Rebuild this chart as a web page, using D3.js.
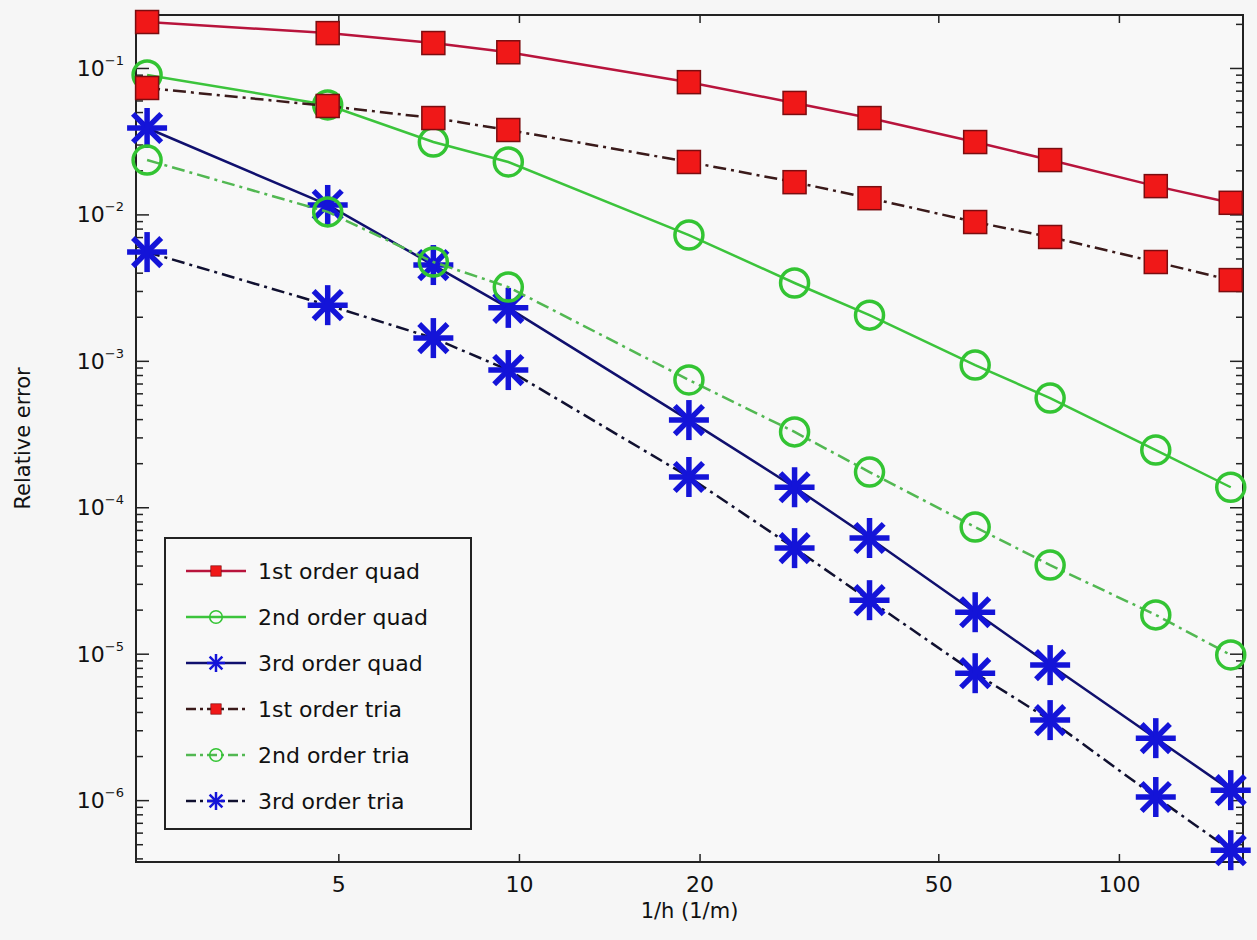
<!DOCTYPE html>
<html>
<head>
<meta charset="utf-8">
<script src="https://cdn.jsdelivr.net/npm/d3@7"></script>
<style>
  body { margin: 0; background: #f6f6f6; }
  svg { display: block; font-family: "DejaVu Sans", sans-serif; }
  .axis path { display: none; }
  .axis line { stroke: #222; stroke-width: 1.5; }
  .axis text { font-size: 22px; fill: #111; font-family: "DejaVu Sans", sans-serif; }
</style>
</head>
<body>
<div id="chart"></div>
<script>
// 1/h values (1/m)
const xVals = [2.4, 4.8, 7.2, 9.6, 19.2, 28.8, 38.4, 57.6, 76.8, 115.2, 153.6];

// relative error, one list per series
const quad1 = [0.206, 0.173, 0.148, 0.128, 0.080, 0.0577, 0.0455, 0.0312, 0.0235, 0.0156, 0.0120];
const quad2 = [0.0896, 0.0559, 0.0312, 0.0228, 0.00723, 0.0034, 0.00205, 0.000936, 0.000557, 0.000246, 0.000137];
const quad3 = [0.0389, 0.0116, 0.00451, 0.0023, 0.000394, 0.000137, 6.17e-5, 1.92e-5, 8.36e-6, 2.65e-6, 1.17e-6];
const tria1 = [0.073, 0.055, 0.0455, 0.0377, 0.0228, 0.0166, 0.0129, 0.00887, 0.00701, 0.00473, 0.00356];
const tria2 = [0.0235, 0.0104, 0.00473, 0.00319, 0.00074, 0.000327, 0.000174, 7.32e-5, 4.03e-5, 1.84e-5, 9.8e-6];
const tria3 = [0.00553, 0.0024, 0.00143, 0.000865, 0.000161, 5.26e-5, 2.32e-5, 7.36e-6, 3.52e-6, 1.05e-6, 4.55e-7];

const labels = ["1st order quad", "2nd order quad", "3rd order quad",
                "1st order tria", "2nd order tria", "3rd order tria"];

const xTicks = [5, 10, 20, 50, 100];
const yExps = [-1, -2, -3, -4, -5, -6];

const W = 1257, H = 940;
const margin = {top: 15, right: 14, bottom: 78, left: 136};

const series = [
  {name: labels[0], vals: quad1, marker: "square", line: "#b8143c", dash: null},
  {name: labels[1], vals: quad2, marker: "circle", line: "#3cc43c", dash: null},
  {name: labels[2], vals: quad3, marker: "star",   line: "#10106e", dash: null},
  {name: labels[3], vals: tria1, marker: "square", line: "#3a1a1a", dash: "13,5,3,5"},
  {name: labels[4], vals: tria2, marker: "circle", line: "#52b852", dash: "13,5,3,5"},
  {name: labels[5], vals: tria3, marker: "star",   line: "#101030", dash: "13,5,3,5"}
];

const svg = d3.select("#chart").append("svg")
  .attr("width", W).attr("height", H);

svg.append("rect").attr("width", W).attr("height", H).attr("fill", "#f6f6f6");

const x = d3.scaleLog()
  .domain([2.3, 161])
  .range([margin.left, W - margin.right]);

const y = d3.scaleLog()
  .domain([3.78e-7, 0.23])
  .range([H - margin.bottom, margin.top]);

const x0 = margin.left, x1 = W - margin.right;
const y0 = H - margin.bottom, y1 = margin.top;

svg.append("rect")
  .attr("x", x0).attr("y", y1)
  .attr("width", x1 - x0).attr("height", y0 - y1)
  .attr("fill", "#f8f8f8");

// minor y ticks
const yMinor = [];
for (let e = -7; e <= -1; e++) {
  for (let m = 2; m <= 9; m++) {
    const v = m * Math.pow(10, e);
    if (v > y.domain()[0] && v < y.domain()[1]) yMinor.push(v);
  }
}
const yMajor = yExps.map(e => Math.pow(10, e));

// left axis
svg.append("g").attr("class", "axis")
  .attr("transform", `translate(${x0},0)`)
  .call(d3.axisLeft(y).tickValues(yMinor).tickSize(-7).tickFormat(""));
svg.append("g").attr("class", "axis")
  .attr("transform", `translate(${x0},0)`)
  .call(d3.axisLeft(y).tickValues(yMajor).tickSize(-13).tickFormat(""));

// right axis
svg.append("g").attr("class", "axis")
  .attr("transform", `translate(${x1},0)`)
  .call(d3.axisRight(y).tickValues(yMinor).tickSize(-7).tickFormat(""));
svg.append("g").attr("class", "axis")
  .attr("transform", `translate(${x1},0)`)
  .call(d3.axisRight(y).tickValues(yMajor).tickSize(-13).tickFormat(""));

// y tick labels with superscript
yExps.forEach(e => {
  const t = svg.append("text")
    .attr("x", x0 - 12)
    .attr("y", y(Math.pow(10, e)) + 8)
    .attr("text-anchor", "end")
    .attr("font-size", 22)
    .attr("fill", "#111");
  t.append("tspan").text("10");
  t.append("tspan").attr("dy", -11).attr("font-size", 13).text("\u2212" + (-e));
});

// bottom and top x axis
svg.append("g").attr("class", "axis")
  .attr("transform", `translate(0,${y0})`)
  .call(d3.axisBottom(x).tickValues(xTicks).tickSize(-8).tickPadding(14)
    .tickFormat(d3.format("d")));
svg.append("g").attr("class", "axis")
  .attr("transform", `translate(0,${y1})`)
  .call(d3.axisTop(x).tickValues(xTicks).tickSize(-8).tickFormat(""));

// frame
svg.append("rect")
  .attr("x", x0).attr("y", y1)
  .attr("width", x1 - x0).attr("height", y0 - y1)
  .attr("fill", "none").attr("stroke", "#222").attr("stroke-width", 2);

// axis titles
svg.append("text")
  .attr("x", (x0 + x1) / 2).attr("y", 918)
  .attr("text-anchor", "middle")
  .attr("font-size", 21).attr("fill", "#111")
  .text("1/h (1/m)");

svg.append("text")
  .attr("transform", `translate(30,${(y0 + y1) / 2}) rotate(-90)`)
  .attr("text-anchor", "middle")
  .attr("font-size", 21).attr("fill", "#111")
  .text("Relative error");

// markers
function drawMarker(g, type, cx, cy, scale) {
  if (type === "square") {
    const s = 23 * scale;
    g.append("rect")
      .attr("x", cx - s / 2).attr("y", cy - s / 2)
      .attr("width", s).attr("height", s)
      .attr("fill", "#f01818").attr("stroke", "#7a0d10").attr("stroke-width", 1.5 * scale);
  } else if (type === "circle") {
    g.append("circle")
      .attr("cx", cx).attr("cy", cy).attr("r", 14 * scale)
      .attr("fill", "none").attr("stroke", "#33c433").attr("stroke-width", 3.5 * scale);
  } else {
    const r = 20 * scale;
    for (let k = 0; k < 4; k++) {
      const a = k * Math.PI / 4;
      g.append("line")
        .attr("x1", cx - r * Math.cos(a)).attr("y1", cy - r * Math.sin(a))
        .attr("x2", cx + r * Math.cos(a)).attr("y2", cy + r * Math.sin(a))
        .attr("stroke", "#1414d8").attr("stroke-width", 5.5 * scale)
        .attr("stroke-linecap", "butt");
    }
  }
}

const plot = svg.append("g");
const line = d3.line().x(d => x(d[0])).y(d => y(d[1]));

series.forEach(s => {
  const pts = xVals.map((v, i) => [v, s.vals[i]]);
  const g = plot.append("g");
  g.append("path")
    .datum(pts)
    .attr("d", line)
    .attr("fill", "none")
    .attr("stroke", s.line)
    .attr("stroke-width", 2.5)
    .attr("stroke-dasharray", s.dash);
  pts.forEach(p => drawMarker(g, s.marker, x(p[0]), y(p[1]), 1));
});

// legend
const lg = svg.append("g");
lg.append("rect")
  .attr("x", 165).attr("y", 538)
  .attr("width", 306).attr("height", 291)
  .attr("fill", "#f8f8f8").attr("stroke", "#222").attr("stroke-width", 2);

series.forEach((s, i) => {
  const ly = 571 + i * 46;
  lg.append("line")
    .attr("x1", 186).attr("x2", 246).attr("y1", ly).attr("y2", ly)
    .attr("stroke", s.line).attr("stroke-width", 2.5)
    .attr("stroke-dasharray", s.dash ? "10,4,3,4" : null);
  drawMarker(lg, s.marker, 216, ly, 0.45);
  lg.append("text")
    .attr("x", 258).attr("y", ly + 8)
    .attr("font-size", 22).attr("fill", "#111")
    .text(s.name);
});
</script>
</body>
</html>
